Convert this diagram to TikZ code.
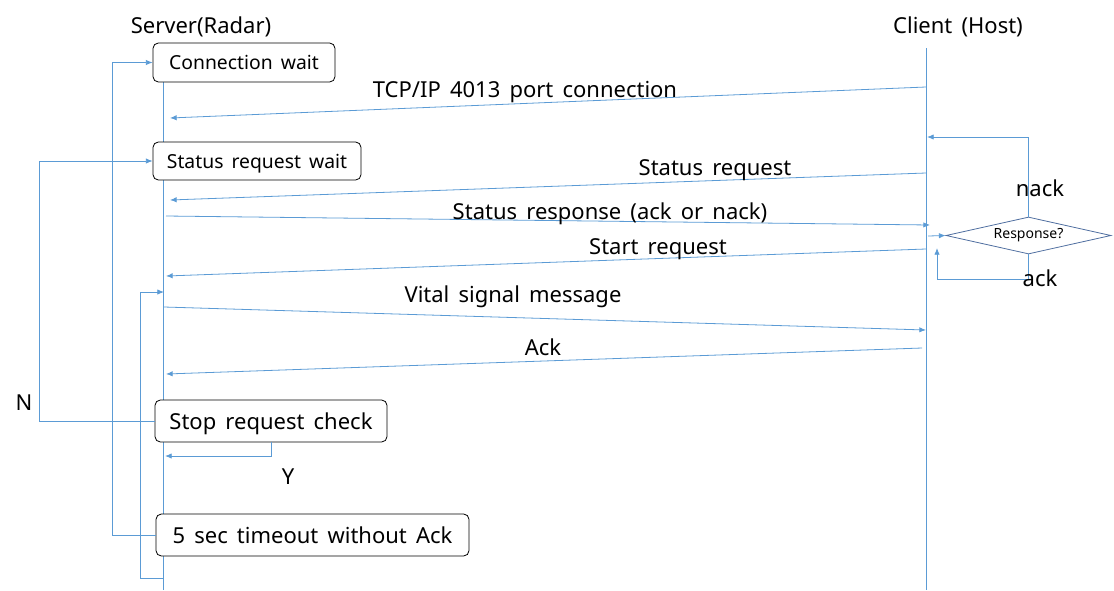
\documentclass[tikz,border=0pt]{standalone}
\usepackage{fontspec}
\setmainfont[WordSpace=1.6]{Noto Sans}
\usetikzlibrary{arrows.meta,shapes.geometric}
\definecolor{flowblue}{RGB}{91,155,213}
\definecolor{diablue}{RGB}{79,110,160}

\tikzset{
  every state/.style={draw, rounded corners=4pt, fill=white, inner sep=0pt, line width=0.6pt, text depth=0pt},
  small state/.style={every state/.try, font=\fontsize{14.5}{16}\selectfont},
  big state/.style={every state/.try, font=\fontsize{16.5}{18}\selectfont},
  msg/.style={flowblue, line width=0.6pt, ->},
  lbl/.style={font=\fontsize{16.5}{18}\selectfont, inner sep=0pt, text depth=0pt},
}

\begin{document}
\begin{tikzpicture}[x=0.75pt, y=-0.75pt, >={Latex[length=5pt,width=4pt]}]

\useasboundingbox (0,0) rectangle (1114,590);

% lifelines
\node [lbl] (server) at (201,25) {Server(Radar)};
\node [lbl] (client) at (958,25) {Client (Host)};
\coordinate (srv-top) at (163,82);
\coordinate (srv-bot) at (163,590);
\coordinate (cli-top) at (926,48);
\coordinate (cli-bot) at (926,590);
\draw [flowblue, line width=0.6pt] (srv-top) -- (srv-bot);
\draw [flowblue, line width=0.6pt] (cli-top) -- (cli-bot);

% server states
\node [small state, minimum width=136.5pt, minimum height=29.25pt] (conwait) at (244,62.5) {Connection wait};
\node [small state, minimum width=156pt, minimum height=28.5pt] (sreqwait) at (257,161) {Status request wait};
\node [big state, minimum width=174pt, minimum height=31.5pt] (stopchk) at (271,421) {Stop request check};
\node [big state, minimum width=234.75pt, minimum height=31.5pt] (timeout) at (312.5,535) {5 sec timeout without Ack};

% messages
\foreach \n/\xs/\ys/\xc/\yc in {tcp/170/118/926/87, sreq/170/200/926/173,
    sresp/166/216/930/225, start/166/276/926/249, vital/164/307/926/330,
    ack/166/374/922/348}
{
  \coordinate (srv-\n) at (\xs,\ys);
  \coordinate (cli-\n) at (\xc,\yc);
}

\draw [msg] (cli-tcp) -- (srv-tcp);
\draw [msg] (cli-sreq) -- (srv-sreq);
\draw [msg] (srv-sresp) -- (cli-sresp);
\draw [msg] (cli-start) -- (srv-start);
\draw [msg] (srv-vital) -- (cli-vital);
\draw [msg] (cli-ack) -- (srv-ack);

\node [lbl] (l-tcp) at (525,89) {TCP/IP 4013 port connection};
\node [lbl] (l-sreq) at (715,168) {Status request};
\node [lbl] (l-sresp) at (610,211) {Status response (ack or nack)};
\node [lbl] (l-start) at (658,247) {Start request};
\node [lbl] (l-vital) at (513,294) {Vital signal message};
\node [lbl] (l-ack) at (543,347) {Ack};

% client decision
\node [draw=diablue, line width=0.6pt, diamond, aspect=4.5, inner sep=0pt,
  minimum width=123.75pt, minimum height=27.75pt, font=\fontsize{10.5}{12}\selectfont]
  (resp) at (1028.5,235.5) {Response?};
\coordinate (cli-resp) at (928,236);
\coordinate (cli-nack) at (927,137);
\coordinate (cli-back) at (937,248);
\draw [msg] (cli-resp) -- (resp.west);
\draw [msg] (resp.north) |- (cli-nack);
\draw [msg] (resp.south) -- ++(0,25) -| (cli-back);
\node [lbl] (l-nack) at (1040,188) {nack};
\node [lbl] (l-rack) at (1040,278) {ack};

% server loops
\coordinate (srv-y) at (165,456);
\coordinate (srv-loopa) at (163,578);
\coordinate (srv-loopb) at (164,292);
\draw [msg] (stopchk.west) -- ++(-115,0) |- (sreqwait.west);
\draw [msg] (timeout.west) -- ++(-43,0) |- (conwait.west);
\draw [msg] (srv-loopa) -- ++(-23,0) |- (srv-loopb);
\draw [msg] (stopchk.south) |- (srv-y);
\node [lbl] (l-n) at (24,403) {N};
\node [lbl] (l-y) at (288,477) {Y};

\end{tikzpicture}
\end{document}
